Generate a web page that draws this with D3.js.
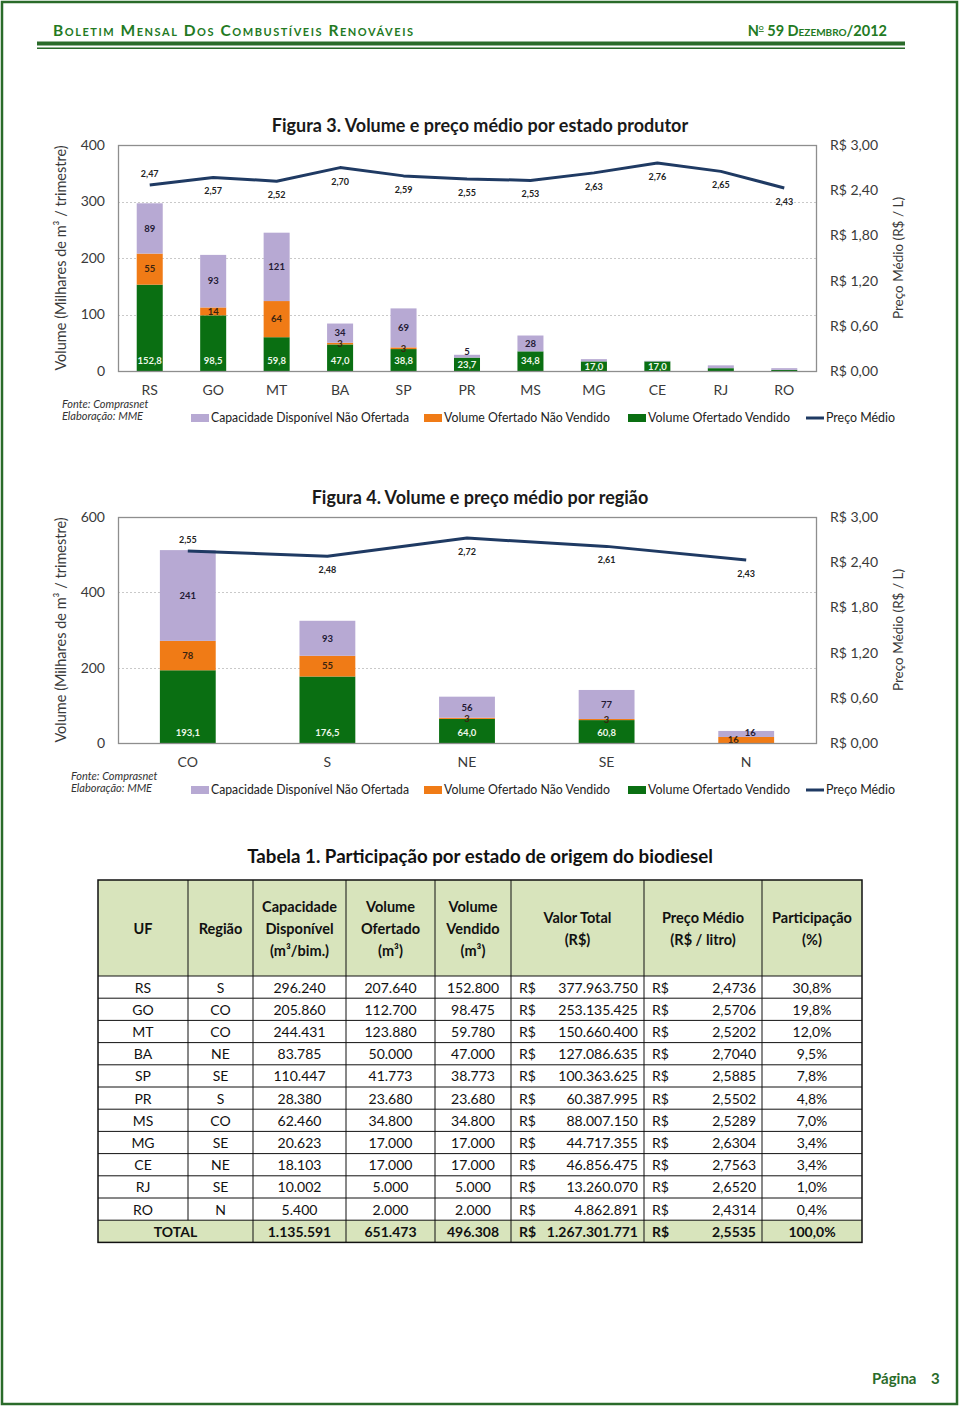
<!DOCTYPE html>
<html><head><meta charset="utf-8">
<script src="https://cdn.jsdelivr.net/npm/d3@7"></script>
<style>
body{margin:0;background:#fff}
svg{display:block}
text{font-family:Lato,"Noto Sans",sans-serif}
</style>
</head><body><svg id="c" width="960" height="1409"></svg>
<script>
// ---------- Figure 3 data (por estado produtor) ----------
const states = ["RS","GO","MT","BA","SP","PR","MS","MG","CE","RJ","RO"];
const stSold = [152.8,98.5,59.8,47.0,38.8,23.7,34.8,17.0,17.0,5.0,2.0];
const stUnsold = [55,14,64,3,3,0,0,0,0,0,0];
const stUnoffered = [89,93,121,34,69,5,28,4,1,5,3];
const stUnofferedShown = [true,true,true,true,true,true,true,false,false,false,false];
const stPrice = [2.47,2.57,2.52,2.70,2.59,2.55,2.53,2.63,2.76,2.65,2.43];
const volTicks3 = [0,100,200,300,400];

// ---------- Figure 4 data (por região) ----------
const regions = ["CO","S","NE","SE","N"];
const rgSold = [193.1,176.5,64.0,60.8,0];
const rgUnsold = [78,55,3,3,16];
const rgUnoffered = [241,93,56,77,16];
const rgUnofferedShown = [true,true,true,true,true];
const rgPrice = [2.55,2.48,2.72,2.61,2.43];
const volTicks4 = [0,200,400,600];

const priceTicks = [0,0.6,1.2,1.8,2.4,3.0];
const seriesNames = ["Capacidade Disponível Não Ofertada","Volume Ofertado Não Vendido","Volume Ofertado Vendido","Preço Médio"];

// ---------- Tabela 1 data ----------
const tblUF = ["RS","GO","MT","BA","SP","PR","MS","MG","CE","RJ","RO"];
const tblRegiao = ["S","CO","CO","NE","SE","S","CO","SE","NE","SE","N"];
const tblCap = [296240,205860,244431,83785,110447,28380,62460,20623,18103,10002,5400];
const tblOfert = [207640,112700,123880,50000,41773,23680,34800,17000,17000,5000,2000];
const tblVend = [152800,98475,59780,47000,38773,23680,34800,17000,17000,5000,2000];
const tblValor = [377963750,253135425,150660400,127086635,100363625,60387995,88007150,44717355,46856475,13260070,4862891];
const tblPreco = [2.4736,2.5706,2.5202,2.7040,2.5885,2.5502,2.5289,2.6304,2.7563,2.6520,2.4314];
const tblPart = [0.308,0.198,0.120,0.095,0.078,0.048,0.070,0.034,0.034,0.010,0.004];
const tblTotal = {cap:1135591, ofert:651473, vend:496308, valor:1267301771, preco:2.5535, part:1.0};
const tblHeaders = [["UF"],["Região"],["Capacidade","Disponível","(m³/bim.)"],["Volume","Ofertado","(m³)"],["Volume","Vendido","(m³)"],["Valor Total","(R$)"],["Preço Médio","(R$ / litro)"],["Participação","(%)"]];

// ---------- styles ----------
const C = {purple:"#b7a9d3", orange:"#f07b16", green:"#0a6f12", line:"#1f3a63",
  frame:"#8e8e8e", grid:"#c9c9c9", axisText:"#3a3a3a", pageGreen:"#2a6b2a", headGreen:"#237a23", tblHead:"#d8e4bc"};
const br = d3.formatLocale({decimal:",", thousands:".", grouping:[3], currency:["R$ ",""]});
const f1 = br.format(".1f"), f2 = br.format(".2f"), f0 = br.format(",.0f"), f4 = br.format(".4f"), fp = br.format(".1%");

const svg = d3.select("#c");

// ---------- page frame & header ----------
svg.append("rect").attr("x",2).attr("y",2).attr("width",955).attr("height",1402)
  .attr("fill","none").attr("stroke",C.pageGreen).attr("stroke-width",2.5);
svg.append("text").attr("x",53).attr("y",36).attr("fill",C.headGreen)
  .attr("font-weight","bold").attr("font-size",15.5).style("font-variant","small-caps")
  .attr("textLength",360).attr("lengthAdjust","spacing")
  .text("Boletim Mensal Dos Combustíveis Renováveis");
const hdr2 = svg.append("text").attr("x",887).attr("y",36).attr("text-anchor","end")
  .attr("fill",C.headGreen).attr("font-weight","bold").attr("font-size",14.5).style("font-variant","small-caps");
hdr2.append("tspan").text("N");
hdr2.append("tspan").attr("dy",-6).attr("font-size",9).style("text-decoration","underline").text("o");
hdr2.append("tspan").attr("dy",6).text(" 59 Dezembro/2012");
svg.append("rect").attr("x",37).attr("y",41.5).attr("width",868).attr("height",4).attr("fill",C.pageGreen);
svg.append("rect").attr("x",37).attr("y",47.5).attr("width",868).attr("height",1.5).attr("fill",C.pageGreen);

// ---------- chart builder ----------
function drawChart(cfg){
  const g = svg.append("g");
  const L=118, R=816, T=cfg.top, B=cfg.bottom;
  const x = d3.scaleBand().domain(cfg.cats).range([L,R]).paddingInner(cfg.pad).paddingOuter(cfg.pad/2);
  const y = d3.scaleLinear().domain([0,cfg.volMax]).range([B,T]);
  const yR = d3.scaleLinear().domain([0,3]).range([B,T]);

  // title
  g.append("text").attr("x",480).attr("y",T-13).attr("text-anchor","middle")
    .attr("font-weight","bold").attr("font-size",18).attr("fill","#1a1a1a").text(cfg.title);

  // grid
  g.selectAll(".grid").data(cfg.volTicks.filter(d=>d>0 && d<cfg.volMax)).join("line")
    .attr("x1",L).attr("x2",R).attr("y1",d=>Math.round(y(d))+0.5).attr("y2",d=>Math.round(y(d))+0.5)
    .attr("stroke",C.grid).attr("stroke-dasharray","2,2");

  // stacked bars
  const rows = cfg.cats.map((c,i)=>({cat:c, sold:cfg.sold[i], unsold:cfg.unsold[i], unoff:cfg.unoff[i], i}));
  const stack = d3.stack().keys(["sold","unsold","unoff"])(rows);
  const colors = {sold:C.green, unsold:C.orange, unoff:C.purple};
  stack.forEach(layer=>{
    g.append("g").selectAll("rect").data(layer).join("rect")
      .attr("x",d=>x(d.data.cat)).attr("width",x.bandwidth())
      .attr("y",d=>y(d[1])).attr("height",d=>Math.max(0,y(d[0])-y(d[1])))
      .attr("fill",colors[layer.key]);
  });

  // bar labels
  const lab = g.append("g").attr("font-size",9.5).attr("font-weight","bold").attr("text-anchor","middle");
  stack.forEach(layer=>{
    layer.forEach(d=>{
      const v = d.data[layer.key];
      const i = d.data.i;
      const cx = x(d.data.cat)+x.bandwidth()/2;
      const mid = (y(d[0])+y(d[1]))/2;
      if(layer.key==="sold"){
        if(v<10) return;
        const yy = Math.max(mid, y(0)-10.5);
        lab.append("text").attr("x",cx).attr("y",yy).attr("dy","0.35em").attr("fill","#eef8ea").text(f1(v));
      } else if(layer.key==="unsold"){
        if(v<=0) return;
        const dx = cfg.sold[i]===0 ? -13 : 0;
        lab.append("text").attr("x",cx+dx).attr("y",mid).attr("dy","0.35em").attr("fill","#3a2410").text(Math.round(v));
      } else {
        if(!cfg.unoffShown[i]) return;
        const noSold = cfg.sold[i]===0;
        const dx = noSold ? 4 : 0;
        const yy = noSold ? mid-1.5 : Math.min(mid, y(d[0])-6);
        lab.append("text").attr("x",cx+dx).attr("y",yy).attr("dy","0.35em").attr("fill","#241a33").text(Math.round(v));
      }
    });
  });

  // frame
  g.append("rect").attr("x",L+0.5).attr("y",T+0.5).attr("width",R-L).attr("height",B-T)
    .attr("fill","none").attr("stroke",C.frame).attr("stroke-width",1.3);

  // price line
  const line = d3.line().x((d,i)=>x(cfg.cats[i])+x.bandwidth()/2).y(d=>yR(d));
  g.append("path").datum(cfg.price).attr("d",line).attr("fill","none")
    .attr("stroke",C.line).attr("stroke-width",3).attr("stroke-linejoin","round");
  g.append("g").attr("font-size",9).attr("font-weight","bold").attr("text-anchor","middle").attr("fill","#222")
    .selectAll("text").data(cfg.price).join("text")
    .attr("x",(d,i)=>x(cfg.cats[i])+x.bandwidth()/2)
    .attr("y",(d,i)=> i===0 ? yR(d)-8 : yR(d)+17)
    .text(d=>f2(d));

  // axes
  const ax = g.append("g").attr("transform",`translate(${L-6},0)`)
    .call(d3.axisLeft(y).tickValues(cfg.volTicks).tickSize(0).tickPadding(7));
  ax.select(".domain").remove();
  ax.selectAll("text").attr("font-size",14).attr("fill",C.axisText).style("font-family","Lato");
  const axR = g.append("g").attr("transform",`translate(${R+8},0)`)
    .call(d3.axisRight(yR).tickValues(priceTicks).tickSize(0).tickPadding(6).tickFormat(d=>"R$ "+f2(d)));
  axR.select(".domain").remove();
  axR.selectAll("text").attr("font-size",14).attr("fill",C.axisText).style("font-family","Lato");
  const axB = g.append("g").attr("transform",`translate(0,${B})`)
    .call(d3.axisBottom(x).tickSize(0).tickPadding(14));
  axB.select(".domain").remove();
  axB.selectAll("text").attr("font-size",14).attr("fill",C.axisText).style("font-family","Lato");

  // axis titles
  const mid = (T+B)/2;
  g.append("text").attr("transform",`translate(66,${mid}) rotate(-90)`).attr("text-anchor","middle")
    .attr("font-size",14.5).attr("fill",C.axisText).text("Volume  (Milhares de m³ / trimestre)");
  g.append("text").attr("transform",`translate(903,${mid}) rotate(-90)`).attr("text-anchor","middle")
    .attr("font-size",13.5).attr("fill",C.axisText).text("Preço Médio (R$ / L)");

  // source
  const fx = cfg.srcX;
  g.append("text").attr("x",fx).attr("y",B+37).attr("font-size",11).attr("font-style","italic").attr("fill","#333").text("Fonte: Comprasnet");
  g.append("text").attr("x",fx).attr("y",B+49).attr("font-size",11).attr("font-style","italic").attr("fill","#333").text("Elaboração: MME");

  // legend
  const ly = B+47;
  const items = [
    {x:191, type:"rect", c:C.purple, t:seriesNames[0], w:198},
    {x:424, type:"rect", c:C.orange, t:seriesNames[1], w:166},
    {x:628, type:"rect", c:C.green, t:seriesNames[2], w:142},
    {x:806, type:"line", c:C.line, t:seriesNames[3], w:69}
  ];
  items.forEach(it=>{
    if(it.type==="rect") g.append("rect").attr("x",it.x).attr("y",ly-4).attr("width",18).attr("height",8).attr("fill",it.c);
    else g.append("line").attr("x1",it.x).attr("x2",it.x+18).attr("y1",ly).attr("y2",ly).attr("stroke",it.c).attr("stroke-width",3);
    g.append("text").attr("x",it.x+20).attr("y",ly).attr("dy","0.35em").attr("font-size",12.5).attr("fill","#222")
      .attr("textLength",it.w).attr("lengthAdjust","spacingAndGlyphs").text(it.t);
  });
}

drawChart({title:"Figura 3. Volume e preço médio por estado produtor", top:145, bottom:371, pad:0.59,
  cats:states, sold:stSold, unsold:stUnsold, unoff:stUnoffered, unoffShown:stUnofferedShown, price:stPrice,
  volMax:400, volTicks:volTicks3, srcX:62});
drawChart({title:"Figura 4. Volume e preço médio por região", top:517, bottom:743, pad:0.6,
  cats:regions, sold:rgSold, unsold:rgUnsold, unoff:rgUnoffered, unoffShown:rgUnofferedShown, price:rgPrice,
  volMax:600, volTicks:volTicks4, srcX:71});

// ---------- table ----------
const tg = svg.append("g");
const colEdges = [98,188,253,346,435,511,644,762,862];
const tTop = 880, hBot = 976, rowH = 22.2;
const nRows = tblUF.length;
const tBot = hBot + rowH*(nRows+1);
tg.append("text").attr("x",480).attr("y",863).attr("text-anchor","middle").attr("font-size",18.7)
  .attr("font-weight","bold").attr("fill","#111").text("Tabela 1. Participação por estado de origem do biodiesel");
tg.append("rect").attr("x",98).attr("y",tTop).attr("width",764).attr("height",hBot-tTop).attr("fill",C.tblHead);
tg.append("rect").attr("x",98).attr("y",hBot+rowH*nRows).attr("width",764).attr("height",rowH).attr("fill",C.tblHead);
// header text
tblHeaders.forEach((lines,ci)=>{
  const cx=(colEdges[ci]+colEdges[ci+1])/2, cy=(tTop+hBot)/2+1;
  lines.forEach((t,li)=>{
    tg.append("text").attr("x",cx).attr("y",cy+(li-(lines.length-1)/2)*22).attr("dy","0.35em")
      .attr("text-anchor","middle").attr("font-size",14.5).attr("font-weight","bold").attr("fill","#111").text(t);
  });
});
function rowCells(r, vals, bold){
  const cy = hBot + rowH*r + rowH/2 + 0.5;
  const gg = tg.append("g").attr("font-size",14).attr("fill","#111").attr("font-weight",bold?"bold":"normal");
  vals.center.forEach(([ci,t])=>{
    const cx = ci.length ? (colEdges[ci[0]]+colEdges[ci[1]])/2 : (colEdges[ci]+colEdges[ci+1])/2;
    gg.append("text").attr("x",cx).attr("y",cy).attr("dy","0.35em").attr("text-anchor","middle").text(t);
  });
  [[5,vals.valor],[6,vals.preco]].forEach(([ci,t])=>{
    gg.append("text").attr("x",colEdges[ci]+8).attr("y",cy).attr("dy","0.35em").text("R$");
    gg.append("text").attr("x",colEdges[ci+1]-6).attr("y",cy).attr("dy","0.35em").attr("text-anchor","end").text(t);
  });
}
tblUF.forEach((uf,i)=>{
  rowCells(i,{center:[[0,uf],[1,tblRegiao[i]],[2,f0(tblCap[i])],[3,f0(tblOfert[i])],[4,f0(tblVend[i])],[7,fp(tblPart[i])]],
    valor:f0(tblValor[i]), preco:f4(tblPreco[i])}, false);
});
rowCells(nRows,{center:[[[0,2],"TOTAL"],[2,f0(tblTotal.cap)],[3,f0(tblTotal.ofert)],[4,f0(tblTotal.vend)],[7,fp(tblTotal.part)]],
  valor:f0(tblTotal.valor), preco:f4(tblTotal.preco)}, true);
// grid lines
for(let r=0;r<=nRows;r++){
  const yy = hBot+rowH*r;
  tg.append("line").attr("x1",98).attr("x2",862).attr("y1",yy).attr("y2",yy).attr("stroke","#111").attr("stroke-width",1);
}
colEdges.forEach((cx,ci)=>{
  if(ci===0||ci===colEdges.length-1) return;
  tg.append("line").attr("x1",cx).attr("x2",cx).attr("y1",tTop).attr("y2", ci===1 ? hBot+rowH*nRows : tBot)
    .attr("stroke","#111").attr("stroke-width",1);
});
tg.append("rect").attr("x",98).attr("y",tTop).attr("width",764).attr("height",tBot-tTop)
  .attr("fill","none").attr("stroke","#111").attr("stroke-width",1.5);

// ---------- footer ----------
svg.append("text").attr("x",872).attr("y",1384).attr("font-size",15).attr("font-weight","bold").attr("fill",C.pageGreen).text("Página");
svg.append("text").attr("x",931).attr("y",1384).attr("font-size",15).attr("font-weight","bold").attr("fill",C.pageGreen).text("3");
</script></body></html>
